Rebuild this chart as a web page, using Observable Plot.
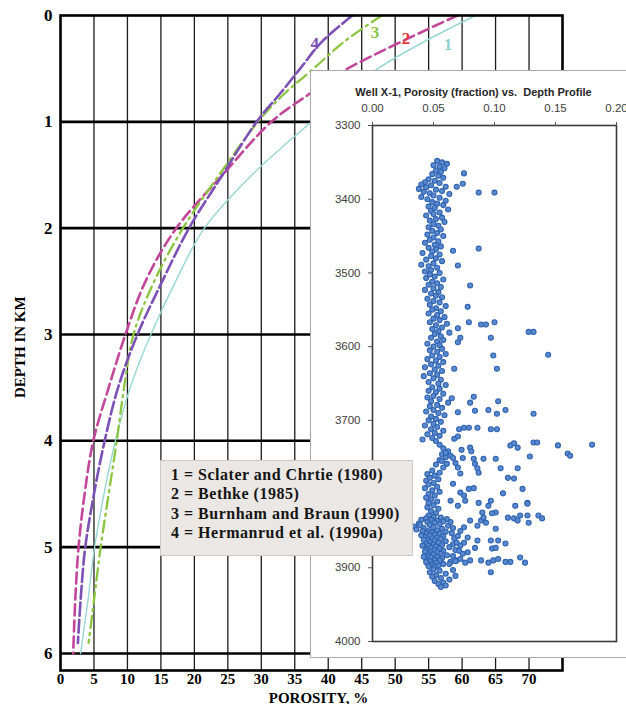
<!DOCTYPE html>
<html><head><meta charset="utf-8">
<script src="https://cdn.jsdelivr.net/npm/d3@7"></script>
<script src="https://cdn.jsdelivr.net/npm/@observablehq/plot@0.6"></script>
<style>
html,body{margin:0;padding:0;background:#fff;}
#wrap{position:relative;width:626px;height:704px;overflow:hidden;background:#fff;}
#main{position:absolute;left:0;top:0;}
#inset{position:absolute;left:310px;top:70px;width:340px;height:586px;background:#fff;border:1px solid #a9a9a9;}
#legend{position:absolute;left:160px;top:460px;width:253px;height:96px;box-sizing:border-box;background:#ebe7e4;border:1px solid #cdc8c4;padding:4px 0 0 10px;font-family:'Liberation Serif','Times New Roman',serif;font-weight:bold;font-size:16px;letter-spacing:0.5px;line-height:19.4px;color:#151515;white-space:nowrap;}
</style></head>
<body>
<div id="wrap"><div id="main"></div><div id="inset"></div><div id="legend"></div></div>
<script>
// ---------- main chart data ----------
const porosityTicks = [0,5,10,15,20,25,30,35,40,45,50,55,60,65,70];
const gridPorosity = [5,10,15,20,25,30,35,40,45,50,55,60,65,70];
const depthTicks = [0,1,2,3,4,5,6];
const gridDepth = [1,2,3,4,5,6];
const legendItems = ["1 = Sclater and Chrtie (1980)","2 = Bethke (1985)","3 = Burnham and Braun (1990)","4 = Hermanrud et al. (1990a)"];

const depth1 = [0,0.5,1,1.5,2,2.5,3,3.5,4,4.5,5,5.5,6];
const por1   = [62,47.4,37.5,28.6,21.5,17.2,13.5,10.4,8.2,6.5,5.1,4.1,3.0];
const depth2 = [0,0.5,0.75,1,1.5,2,2.5,3,3.5,4,4.5,5,5.5,6];
const por2   = [59.3,42.9,36.9,31.5,24.2,17.3,12.7,9.7,7.2,4.9,3.6,2.7,2.2,1.9];
const depth3 = [0,0.25,0.5,0.75,1,1.5,2,2.5,3,3.5,4,4.5,5,5.5,5.9];
const por3   = [48,42.3,37.8,33.2,29.5,23.7,18.3,14,10.9,9.5,8.4,7.2,6.0,5.0,4.2];
const depth4 = [0,0.25,0.5,0.75,1,1.5,2,2.5,3,3.5,4,4.5,5,5.5,5.9];
const por4   = [43.6,39,35.8,32.6,29.3,24.2,19.2,15.2,11.5,8.6,6.6,5.0,3.7,3.0,2.6];

const curveLabelText = ["1","2","3","4"];
const curveLabelPorosity = [57.9,51.6,47,38];
const curveLabelDepth = [0.27,0.22,0.16,0.26];

// ---------- inset data ----------
const insetTitle = "Well X-1, Porosity (fraction) vs.  Depth Profile";
const insetPorosityTicks = [0,0.05,0.10,0.15,0.20];
const insetDepthTicks = [3300,3400,3500,3600,3700,3800,3900,4000];
const wellColumn = [
[3348,.053],[3350,.057],[3352,.061],[3354,.050],[3356,.055],[3358,.059],[3361,.052],[3363,.056],[3366,.049],[3368,.054],[3371,.058],[3373,.046],[3375,.051],[3377,.043],[3378,.055],[3380,.040],[3381,.048],[3383,.060],[3384,.044],[3386,.038],[3387,.052],[3389,.057],[3390,.042],[3392,.047],[3393,.063],[3395,.050],[3397,.040],[3398,.055],
[3400,.045],[3402,.060],[3404,.049],[3406,.053],[3408,.058],[3410,.046],[3412,.051],[3414,.062],[3416,.048],[3418,.055],[3420,.050],[3422,.044],[3425,.057],[3427,.052],[3429,.047],[3431,.059],[3434,.050],[3436,.054],[3438,.046],[3441,.056],[3443,.049],[3446,.053],[3448,.045],
[3450,.058],[3452,.050],[3455,.047],[3457,.054],[3459,.043],[3462,.051],[3464,.056],[3466,.046],[3468,.052],[3471,.049],[3473,.041],[3475,.055],[3477,.048],[3480,.052],[3482,.044],[3484,.057],[3487,.050],[3489,.040],[3491,.046],[3493,.053],[3496,.048],[3498,.043],
[3500,.055],[3502,.047],[3505,.051],[3507,.044],[3509,.058],[3512,.049],[3514,.053],[3516,.046],[3519,.056],[3521,.050],[3523,.043],[3526,.054],[3528,.048],[3531,.052],[3533,.057],[3535,.045],[3538,.050],[3540,.055],[3543,.047],[3545,.060],[3548,.052],
[3550,.049],[3552,.056],[3555,.046],[3557,.053],[3560,.059],[3562,.050],[3564,.055],[3567,.047],[3569,.061],[3571,.052],[3574,.057],[3576,.049],[3579,.054],[3581,.063],[3583,.051],[3586,.056],[3588,.048],[3591,.058],[3593,.053],[3596,.045],[3598,.055],
[3600,.050],[3603,.057],[3605,.047],[3607,.053],[3610,.060],[3612,.049],[3614,.055],[3617,.045],[3619,.052],[3621,.058],[3624,.048],[3626,.054],[3628,.043],[3631,.051],[3633,.057],[3636,.047],[3638,.053],[3640,.042],[3643,.050],[3645,.056],[3648,.046],
[3650,.054],[3652,.060],[3655,.049],[3657,.055],[3660,.046],[3662,.052],[3664,.058],[3667,.050],[3669,.045],[3671,.055],[3674,.048],[3676,.062],[3679,.053],[3681,.047],[3683,.057],[3686,.050],[3688,.044],[3690,.054],[3693,.059],[3695,.048],[3698,.052],
[3700,.046],[3702,.056],[3705,.050],[3707,.043],[3709,.053],[3712,.048],[3714,.058],[3717,.051],[3719,.045],[3721,.055],[3724,.049],[3726,.041],[3728,.052],
[3733,.055],[3738,.058],[3742,.062],[3746,.057],[3750,.060],[3754,.055],
[3760,.052],[3764,.058],[3768,.049],[3771,.055],[3773,.045],[3775,.051],[3778,.047],[3780,.054],[3782,.044],[3785,.050],[3787,.046],[3790,.053],[3792,.043],[3795,.049],[3797,.055],[3800,.046],[3802,.051],[3805,.044],[3807,.048],[3810,.053],[3812,.046],[3815,.050],[3818,.045],[3820,.054],[3823,.048],[3826,.052],[3829,.046],
[3831,.050],[3832,.056],[3833,.044],[3834,.061],[3835,.048],[3836,.053],[3837,.058],[3838,.045],[3839,.051],[3840,.038],[3841,.055],[3842,.047],[3843,.062],[3844,.034],[3845,.050],[3846,.042],[3847,.057],[3848,.036],[3849,.053],[3850,.046],[3851,.060],[3852,.049],[3853,.044],[3854,.055],[3855,.051],[3856,.047],[3857,.058],[3858,.043],[3859,.053],[3860,.049],[3861,.056],[3862,.045],[3863,.051],[3864,.060],[3865,.047],[3866,.054],[3867,.044],[3868,.050],[3869,.057],[3870,.046],[3871,.052],[3872,.063],[3873,.048],[3874,.055],[3875,.044],[3876,.051],[3877,.058],[3878,.047],[3879,.053],[3880,.045],[3881,.056],[3882,.050],[3883,.061],[3884,.046],[3885,.053],[3886,.048],[3887,.057],[3888,.044],[3889,.051],[3890,.055],[3891,.047],[3892,.064],[3893,.052],[3894,.045],[3895,.058],[3896,.049],[3897,.054],[3898,.046],[3899,.051],
[3835,.040],[3842,.039],[3850,.041],[3856,.040],[3862,.042],[3870,.041],[3878,.043],[3885,.042],[3892,.044],[3838,.064],[3846,.066],[3853,.065],[3860,.067],[3868,.066],[3876,.068],[3884,.066],[3890,.069],
[3902,.050],[3904,.055],[3906,.047],[3908,.060],[3910,.052],[3912,.049],[3914,.056],[3916,.063],[3918,.051],[3920,.058],[3922,.054],[3924,.060],[3926,.056],[3903,.066],[3911,.068]
];
const wellOutliers = [
[3365,.075],[3379,.074],[3383,.069],[3391,.087],[3391,.100],
[3467,.087],[3470,.066],[3490,.070],[3517,.080],[3546,.078],[3567,.079],[3570,.089],[3570,.093],[3567,.100],[3575,.070],[3580,.128],[3580,.132],[3588,.097],[3588,.072],[3594,.070],[3611,.144],[3612,.099],[3630,.102],[3630,.067],
[3670,.065],[3668,.083],[3676,.080],[3687,.084],[3674,.103],[3686,.095],[3691,.102],[3686,.109],[3691,.132],[3689,.070],
[3710,.075],[3710,.079],[3710,.086],[3712,.071],[3712,.097],[3712,.102],[3725,.067],[3722,.070],
[3734,.113],[3731,.116],[3737,.119],[3730,.132],[3730,.135],[3734,.152],[3745,.160],[3748,.162],[3733,.180],
[3744,.060],[3748,.064],[3740,.073],[3737,.080],[3742,.081],
[3751,.066],[3751,.074],[3752,.083],[3752,.091],[3752,.101],[3749,.129],
[3755,.057],[3759,.061],[3758,.068],[3764,.070],[3772,.072],[3759,.084],[3765,.086],[3771,.087],[3765,.105],[3778,.111],[3779,.116],[3765,.119],[3793,.123],[3812,.127],[3799,.107],
[3786,.066],[3798,.072],[3802,.075],[3793,.079],[3792,.083],[3809,.076],[3809,.064],[3816,.070],
[3812,.087],[3809,.097],[3816,.095],[3825,.090],[3836,.089],
[3825,.101],[3826,.098],[3832,.091],[3839,.093],[3843,.086],[3836,.080],
[3816,.117],[3813,.127],[3832,.111],[3833,.116],[3836,.119],[3829,.121],[3829,.127],[3839,.128],[3829,.136],[3833,.139],
[3847,.101],[3863,.097],[3863,.103],[3867,.109],[3863,.086],[3873,.084],[3874,.098],[3873,.101],
[3866,.075],[3870,.072],[3879,.078],
[3890,.080],[3890,.089],[3893,.095],[3890,.099],[3888,.103],[3892,.109],[3892,.113],[3886,.121],[3893,.125],
[3888,.072],[3893,.076],[3891,.068],[3895,.063],[3906,.097],
[3850,.072],[3857,.070],[3845,.075],[3877,.071],[3881,.074],[3866,.069],[3859,.078]
];

// ---------- main chart ----------
const curves = [
  {id:"1", depth:depth1, por:por1, stroke:"#97d6d2", width:1.4, dash:null},
  {id:"2", depth:depth2, por:por2, stroke:"#c2479b", width:2.6, dash:"11,5"},
  {id:"3", depth:depth3, por:por3, stroke:"#8bc53f", width:2.3, dash:"12,5,2,5"},
  {id:"4", depth:depth4, por:por4, stroke:"#7c50b5", width:2.6, dash:"13,4"}
];
const labelColors = ["#8fd0cc","#e2353a","#8bc34a","#7a4fb5"];
const curveRows = curves.flatMap(c => c.depth.map((d,i)=>({id:c.id, depth:d, porosity:c.por[i]})));
const labelRows = curveLabelText.map((t,i)=>({text:t, porosity:curveLabelPorosity[i], depth:curveLabelDepth[i], color:labelColors[i]}));

const serif = "'Liberation Serif','Times New Roman',serif";
const main = Plot.plot({
  width: 626, height: 704,
  marginLeft: 60, marginRight: 64, marginTop: 15, marginBottom: 34,
  x: {domain:[0,75]},
  y: {domain:[0,6.16], reverse:true},
  style: {fontFamily: serif, fontWeight:"bold", color:"#000", background:"#fff", overflow:"visible"},
  marks: [
    Plot.ruleX(gridPorosity, {y1:0, y2:6.16, stroke:"#1c1c1c", strokeWidth:1.3}),
    Plot.ruleY(gridDepth, {x1:0, x2:75, stroke:"#000", strokeWidth:2.6}),
    ...curves.map(c => Plot.line(curveRows.filter(r=>r.id===c.id), {x:"porosity", y:"depth", stroke:c.stroke, strokeWidth:c.width, strokeDasharray:c.dash, curve:"catmull-rom"})),
    Plot.frame({stroke:"#000", strokeWidth:2.6}),
    Plot.text(labelRows, {x:"porosity", y:"depth", text:"text", fill:"color", fontSize:17, fontWeight:"bold"}),
    Plot.axisY({ticks: depthTicks, tickSize:0, tickPadding:8, fontSize:17, fontWeight:"bold", label:null, tickFormat:d=>String(d)}),
    Plot.axisX({ticks: porosityTicks, tickSize:0, tickPadding:3, fontSize:15, fontWeight:"bold", label:null, tickFormat:d=>String(d)}),
    Plot.text(["DEPTH IN KM"], {frameAnchor:"left", dx:-40, dy:55, rotate:-90, fontSize:15, fontWeight:"bold", fill:"#000"}),
    Plot.text(["POROSITY, %"], {frameAnchor:"bottom", lineAnchor:"top", dx:7, dy:22, fontSize:15, fontWeight:"bold", fill:"#000"})
  ]
});
document.getElementById("main").appendChild(main);

// ---------- inset ----------
const wellData = wellColumn.concat(wellOutliers).map(([d,p])=>({depth:d, porosity:p}));
const inset = Plot.plot({
  width: 340, height: 586,
  marginLeft: 61, marginRight: 35, marginTop: 54, marginBottom: 16,
  x: {domain:[0,0.2]},
  y: {domain:[3300,4000], reverse:true},
  style: {fontFamily:"'Liberation Sans',Arial,sans-serif", fontSize:"11.5px", color:"#404040", background:"#fff", overflow:"visible"},
  marks: [
    Plot.dot(wellData, {x:"porosity", y:"depth", r:2.5, fill:"#5a89cf", stroke:"#2f63b0", strokeWidth:1.1}),
    Plot.frame({stroke:"#3a3a3a", strokeWidth:1.6}),
    Plot.axisX({anchor:"top", ticks: insetPorosityTicks, tickFormat: d3.format(".2f"), tickSize:4, tickPadding:10, label:null, stroke:"#555"}),
    Plot.axisY({ticks: insetDepthTicks, tickFormat: d=>String(d), tickSize:4, tickPadding:8, label:null, stroke:"#555"}),
    Plot.text([insetTitle], {frameAnchor:"top", dx:-21, dy:-37, fontSize:11, fontWeight:"bold", fill:"#262626"})
  ]
});
document.getElementById("inset").appendChild(inset);

// ---------- legend ----------
const lg = document.getElementById("legend");
legendItems.forEach(t => { const d = document.createElement("div"); d.textContent = t; lg.appendChild(d); });
</script>
</body></html>
